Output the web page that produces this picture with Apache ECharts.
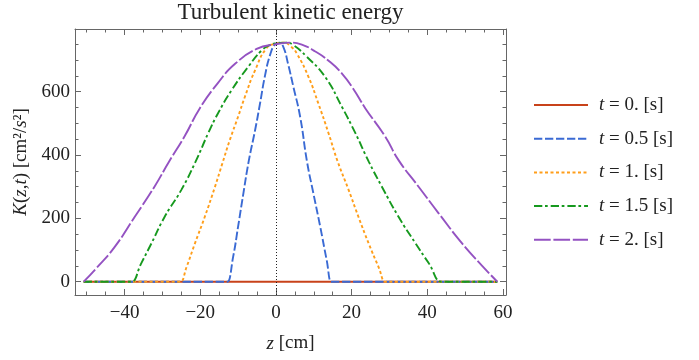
<!DOCTYPE html>
<html>
<head>
<meta charset="utf-8">
<script src="https://cdn.jsdelivr.net/npm/echarts@6/dist/echarts.min.js"></script>
<style>
  html, body { margin: 0; padding: 0; background: #fff; }
  #chart { width: 699px; height: 360px; }
</style>
</head>
<body>
<div id="chart"></div>
<script>
// Axis extents and tick positions (z in cm, K in cm^2/s^2)
const zRange = [-53.1, 60.8];
const kRange = [-42, 798];
const zMajorTicks = [-40, -20, 0, 20, 40, 60];
const zMinorTicks = [-50, -45, -35, -30, -25, -15, -10, -5, 5, 10, 15, 25, 30, 35, 45, 50, 55];
const kMajorTicks = [0, 200, 400, 600];
const kMinorTicks = [50, 100, 150, 250, 300, 350, 450, 500, 550, 650, 700, 750];

// Legend labels, one per time
const timeLabels = ['t = 0. [s]', 't = 0.5 [s]', 't = 1. [s]', 't = 1.5 [s]', 't = 2. [s]'];

// Profiles K(z, t) as [z, K] pairs
const kT0 = [[-50.8, 0], [58.5, 0]];
const kT05 = [
  [-50.8, 0], [-13.0, 0], [-12.8, 0], [-11.3, 79], [-10.0, 174], [-8.6, 279], [-7.2, 380], [-5.5, 479],
  [-4.2, 563], [-2.9, 650], [-1.5, 718], [-0.2, 750], [0.9, 755], [2.0, 740], [3.2, 688],
  [4.6, 616], [6.4, 521], [8.2, 380], [9.9, 279], [11.7, 174], [13.4, 69], [14.6, 0], [14.8, 0], [58.5, 0]
];
const kT1 = [
  [-50.8, 0], [-25.4, 0], [-25.2, 0], [-23.6, 47], [-21.4, 121], [-18.8, 205], [-16.1, 300], [-14.2, 372],
  [-12.2, 447], [-10.0, 521], [-8.2, 584], [-5.5, 668], [-2.5, 737], [0.0, 752], [2.0, 755],
  [4.0, 742], [5.5, 721], [8.6, 647], [11.2, 563], [13.9, 469], [16.3, 380], [19.2, 290],
  [21.8, 205], [24.5, 121], [27.1, 47], [28.9, 0], [29.1, 0], [58.5, 0]
];
const kT15 = [
  [-50.8, 0], [-38.3, 0], [-38.1, 0], [-35.6, 58], [-32.9, 121], [-29.4, 205], [-25.0, 290], [-21.2, 380],
  [-17.9, 469], [-15.3, 532], [-11.7, 605], [-7.3, 679], [-3.8, 730], [-1.5, 748], [0.0, 753], [2.7, 755],
  [4.6, 747], [8.1, 711], [13.0, 647], [17.4, 553], [21.0, 469], [24.5, 380], [28.0, 300],
  [32.4, 205], [36.9, 121], [40.4, 58], [43.7, 0], [43.9, 0], [58.5, 0]
];
const kT2 = [
  [-50.8, 0], [-47.5, 42], [-42.6, 110], [-37.3, 205], [-32.1, 300], [-28.3, 378], [-24.1, 460],
  [-20.1, 548], [-15.3, 628], [-10.8, 688], [-5.1, 735], [0.0, 750], [3.8, 755], [7.0, 748],
  [10.4, 727], [14.0, 697], [17.4, 658], [20.5, 608], [23.6, 548], [28.9, 458], [32.4, 384],
  [37.7, 300], [43.0, 216], [49.2, 121], [54.5, 50], [58.5, 0]
];

const profiles = [kT0, kT05, kT1, kT15, kT2];
const colors = ['#C8421A', '#3A6AD4', '#FF9E1A', '#16991E', '#9452C2'];
const dashes = ['solid', [8.3, 2.7], [3, 2.5], [8.3, 2.7, 2.7, 3], [16.7, 2.7]];

const serif = 'Liberation Serif';
const frameColor = '#666';
const textColor = '#222';
const minus = v => String(v).replace('-', '\u2212');

function xAxisPart(position, ticks, len, withLine, withLabels) {
  return {
    type: 'value', position, min: zRange[0], max: zRange[1],
    axisLine: { show: withLine, onZero: false, lineStyle: { color: frameColor, width: 1 } },
    axisTick: { show: true, inside: true, length: len, customValues: ticks, lineStyle: { color: frameColor, width: 1 } },
    axisLabel: withLabels
      ? { show: true, customValues: ticks, formatter: minus, fontFamily: serif, fontSize: 19, color: textColor, margin: 9 }
      : { show: false },
    splitLine: { show: false }
  };
}
function yAxisPart(position, ticks, len, withLine, withLabels) {
  return {
    type: 'value', position, min: kRange[0], max: kRange[1],
    axisLine: { show: withLine, onZero: false, lineStyle: { color: frameColor, width: 1 } },
    axisTick: { show: true, inside: true, length: len, customValues: ticks, lineStyle: { color: frameColor, width: 1 } },
    axisLabel: withLabels
      ? { show: true, customValues: ticks, formatter: minus, fontFamily: serif, fontSize: 19, color: textColor, margin: 5 }
      : { show: false },
    splitLine: { show: false }
  };
}

const xAxes = [
  Object.assign(xAxisPart('bottom', zMajorTicks, 6, true, true), {
    name: '{it|z} [cm]', nameLocation: 'middle', nameGap: 39,
    nameTextStyle: { fontFamily: serif, fontSize: 19, color: textColor,
      rich: { it: { fontFamily: serif, fontSize: 19, fontStyle: 'italic', color: textColor } } }
  }),
  xAxisPart('bottom', zMinorTicks, 3.5, false, false),
  xAxisPart('top', zMajorTicks, 6, true, false),
  xAxisPart('top', zMinorTicks, 3.5, false, false)
];
const yAxes = [
  Object.assign(yAxisPart('left', kMajorTicks, 6, true, true), {
    name: '{it|K}({it|z},{it|t}) [cm\u00B2/{it|s}\u00B2]', nameLocation: 'middle', nameGap: 33,
    nameTextStyle: { fontFamily: serif, fontSize: 19, color: textColor,
      rich: { it: { fontFamily: serif, fontSize: 19, fontStyle: 'italic', color: textColor } } }
  }),
  yAxisPart('left', kMinorTicks, 3.5, false, false),
  yAxisPart('right', kMajorTicks, 6, true, false),
  yAxisPart('right', kMinorTicks, 3.5, false, false)
];

const series = profiles.map((data, i) => ({
  name: timeLabels[i],
  type: 'line',
  xAxisIndex: 0, yAxisIndex: 0,
  data,
  symbol: 'none',
  showSymbol: false,
  smooth: 0.5,
  lineStyle: { color: colors[i], width: 1.9, type: dashes[i], cap: 'butt' },
  itemStyle: { color: colors[i] },
  emphasis: { disabled: true },
  markLine: i === 0 ? {
    silent: true, symbol: 'none', label: { show: false },
    lineStyle: { color: '#222', width: 1, type: [1, 2] },
    data: [{ xAxis: 0 }]
  } : undefined
}));

const chart = echarts.init(document.getElementById('chart'), null, { renderer: 'canvas' });
chart.setOption({
  animation: false,
  backgroundColor: '#fff',
  title: {
    text: 'Turbulent kinetic energy', left: 290.5, textAlign: 'center', top: 1, padding: 0,
    textStyle: { fontFamily: serif, fontSize: 23, fontWeight: 'normal', color: textColor }
  },
  grid: { left: 75, top: 29, width: 431, height: 266, containLabel: false },
  xAxis: xAxes,
  yAxis: yAxes,
  legend: {
    orient: 'vertical', left: 533, top: 95, padding: 0,
    itemWidth: 54, itemHeight: 14, itemGap: 13.7,
    data: timeLabels,
    itemStyle: { opacity: 0 },
    formatter: name => '{it|t}' + name.slice(1),
    textStyle: {
      fontFamily: serif, fontSize: 19, color: textColor, lineHeight: 20, padding: [0, 0, 0, 6],
      rich: { it: { fontFamily: serif, fontSize: 19, fontStyle: 'italic', color: textColor } }
    }
  },
  series
});
</script>
</body>
</html>
